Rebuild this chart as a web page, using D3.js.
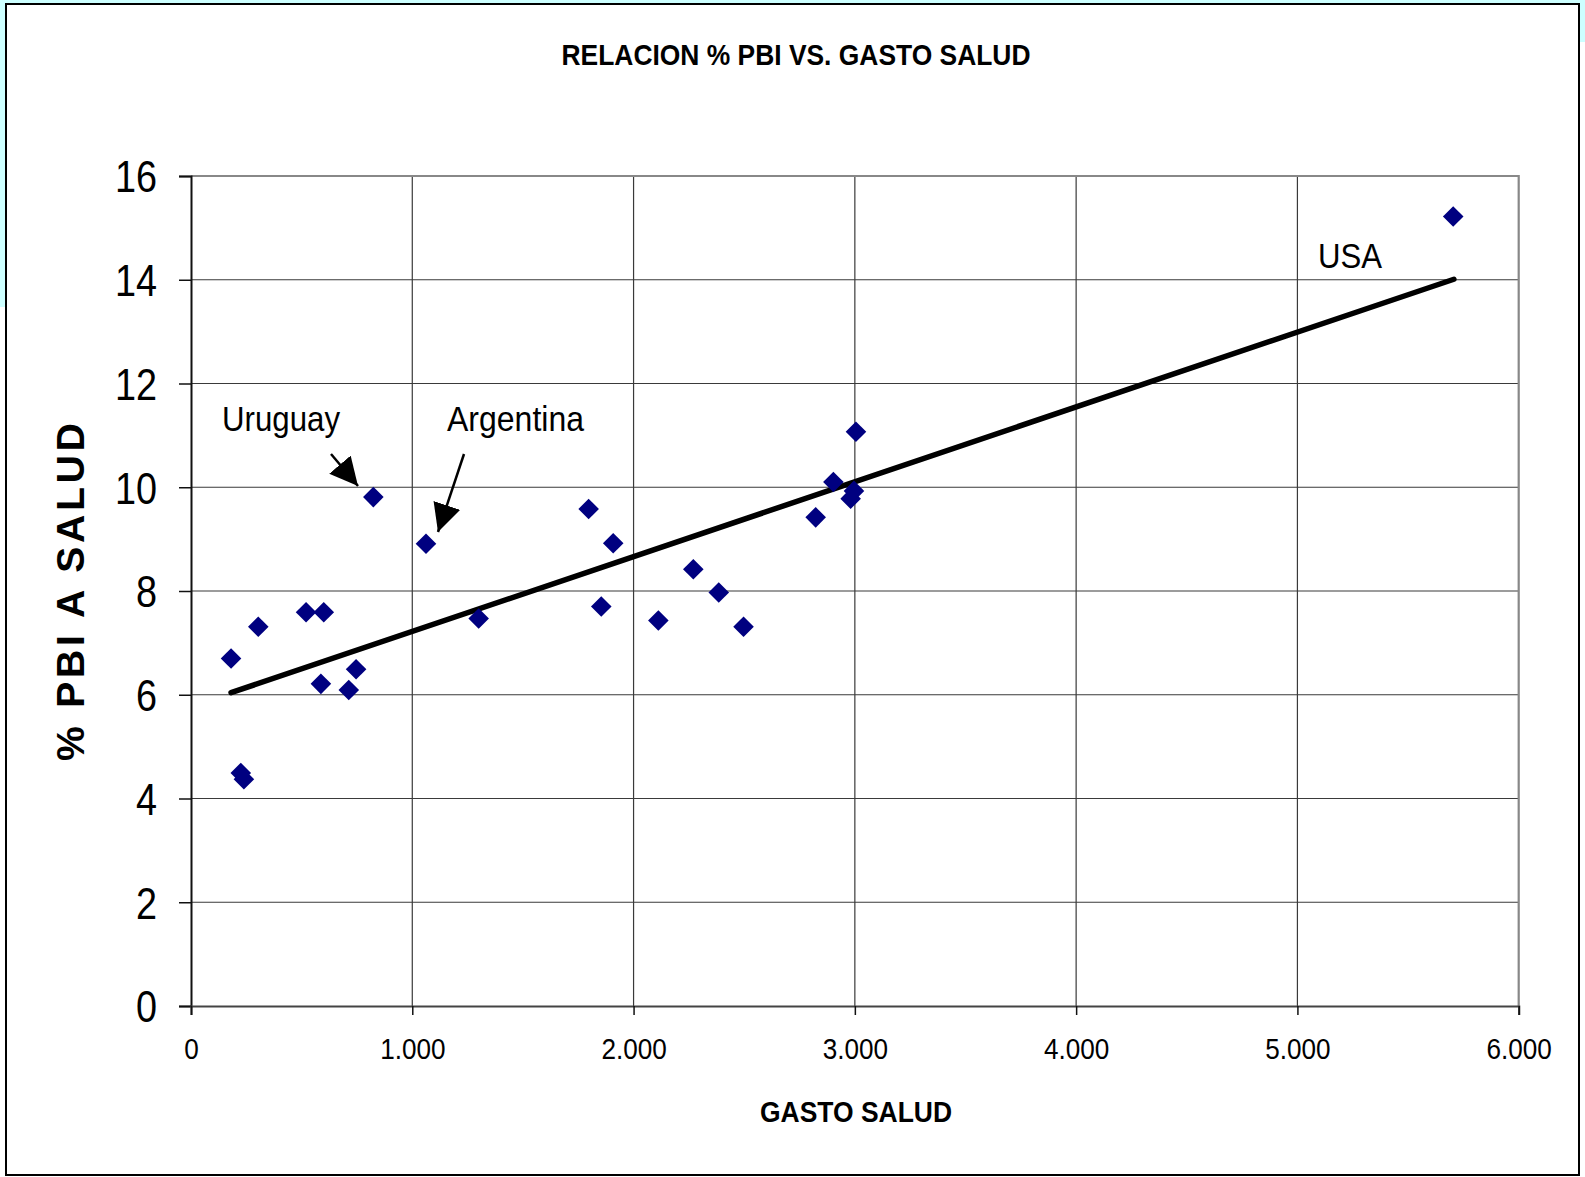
<!DOCTYPE html>
<html>
<head>
<meta charset="utf-8">
<script src="https://cdn.jsdelivr.net/npm/d3@7"></script>
<style>
  html, body { margin: 0; padding: 0; background: #ffffff; }
  svg { display: block; }
  text { font-family: "Liberation Sans", Arial, sans-serif; fill: #000; }
</style>
</head>
<body>
<svg id="chart" width="1585" height="1177"></svg>
<script>
// ---- data ----
const gastoSalud = [181, 304, 520, 600, 587, 713, 746, 824, 1062, 1300, 225, 239,
                    1797, 1854, 1908, 2112, 2270, 2385, 2497, 2823, 2903, 3005, 2996, 2981, 5704];
const pbiSalud   = [6.70, 7.31, 7.59, 7.59, 6.21, 6.09, 6.49, 9.81, 8.91, 7.47, 4.49, 4.37,
                    9.58, 7.70, 8.92, 7.43, 8.42, 7.97, 7.31, 9.42, 10.10, 11.07, 9.93, 9.78, 15.22];
const trendX = [181, 5707];
const trendY = [6.04, 14.01];
const xTicks = [0, 1000, 2000, 3000, 4000, 5000, 6000];
const yTicks = [0, 2, 4, 6, 8, 10, 12, 14, 16];
const labelNames = ["Uruguay", "Argentina", "USA"];
const titleText = "RELACION % PBI VS. GASTO SALUD";
const xTitle = "GASTO SALUD";
const yTitle = "% PBI A SALUD";

const svg = d3.select("#chart");

// background decorations
svg.append("rect").attr("x", 0).attr("y", 0).attr("width", 1585).attr("height", 307).attr("fill", "#ccffff");
svg.append("rect").attr("x", 6).attr("y", 42).attr("width", 1579).attr("height", 1135).attr("fill", "#ffffff");
svg.append("rect").attr("x", 6).attr("y", 4).attr("width", 1573).attr("height", 1171)
   .attr("fill", "#ffffff").attr("stroke", "#000").attr("stroke-width", 2);

const L = 191, R = 1518.7, T = 176, B = 1006;
const x = d3.scaleLinear().domain([0, 6000]).range([L, R]);
const y = d3.scaleLinear().domain([0, 16]).range([B, T]);

function squeeze(sel, f) {
  sel.each(function () {
    const w = this.getComputedTextLength();
    d3.select(this).attr("textLength", w * f).attr("lengthAdjust", "spacingAndGlyphs");
  });
}

// gridlines
svg.append("g").selectAll("line").data(yTicks.filter(d => d > 0 && d < 16)).join("line")
  .attr("x1", L).attr("x2", R).attr("y1", d => y(d)).attr("y2", d => y(d))
  .attr("stroke", "#3a3a3a").attr("stroke-width", 1.2);
svg.append("g").selectAll("line").data(xTicks.filter(d => d > 0 && d < 6000)).join("line")
  .attr("y1", T).attr("y2", B).attr("x1", d => x(d)).attr("x2", d => x(d))
  .attr("stroke", "#3a3a3a").attr("stroke-width", 1.2);

// plot border top/right (gray)
svg.append("path").attr("d", `M${L},${T}H${R}V${B}`).attr("fill", "none")
  .attr("stroke", "#888").attr("stroke-width", 2.2);

// axes
const yAxis = d3.axisLeft(y).tickValues(yTicks).tickSize(12).tickPadding(22).tickFormat(d3.format("d"));
const gy = svg.append("g").attr("transform", `translate(${L},0)`).call(yAxis);
gy.select(".domain").attr("stroke", "#111").attr("stroke-width", 2);
gy.selectAll(".tick line").attr("stroke", "#111").attr("stroke-width", 1.5);
gy.selectAll(".tick text").attr("font-size", 45).attr("dy", "0.35em")
  .attr("font-family", "'Liberation Sans', Arial, sans-serif").attr("fill", "#000");
squeeze(gy.selectAll(".tick text"), 0.84);

const fmtX = d => d === 0 ? "0" : d3.format(",.3f")(d / 1000);
const xAxis = d3.axisBottom(x).tickValues(xTicks).tickSize(9).tickPadding(23).tickFormat(fmtX);
const gx = svg.append("g").attr("transform", `translate(0,${B})`).call(xAxis);
gx.select(".domain").attr("stroke", "#444").attr("stroke-width", 2.2);
gx.selectAll(".tick line").attr("stroke", "#111").attr("stroke-width", 1.5);
gx.selectAll(".tick text").attr("font-size", 29)
  .attr("font-family", "'Liberation Sans', Arial, sans-serif").attr("fill", "#000");
squeeze(gx.selectAll(".tick text"), 0.9);

// trend line
svg.append("line")
  .attr("x1", x(trendX[0])).attr("y1", y(trendY[0]))
  .attr("x2", x(trendX[1])).attr("y2", y(trendY[1]))
  .attr("stroke", "#000").attr("stroke-width", 5.5).attr("stroke-linecap", "round");

// points
const pts = gastoSalud.map((g, i) => ({ g, p: pbiSalud[i] }));
svg.append("g").selectAll("path").data(pts).join("path")
  .attr("d", d3.symbol(d3.symbolDiamond2 || d3.symbolDiamond, 270)())
  .attr("transform", d => `translate(${x(d.g)},${y(d.p)})`)
  .attr("fill", "#000080");

// annotations
const ann = svg.append("g");
const t1 = ann.append("text").attr("x", 222).attr("y", 431).attr("font-size", 35).text(labelNames[0]);
const t2 = ann.append("text").attr("x", 447).attr("y", 431).attr("font-size", 35).text(labelNames[1]);
const t3 = ann.append("text").attr("x", 1318).attr("y", 268).attr("font-size", 35).text(labelNames[2]);
[[t1,118],[t2,137],[t3,64]].forEach(([t,w]) => t.attr("textLength", w).attr("lengthAdjust", "spacingAndGlyphs"));

// arrows
const defs = svg.append("defs");
defs.append("marker").attr("id", "ah").attr("viewBox", "0 0 10 10")
  .attr("refX", 10).attr("refY", 5).attr("markerUnits", "userSpaceOnUse")
  .attr("markerWidth", 28).attr("markerHeight", 28).attr("orient", "auto")
  .append("path").attr("d", "M0,0L10,5L0,10Z").attr("fill", "#000");
ann.append("line").attr("x1", 331).attr("y1", 454).attr("x2", 358).attr("y2", 486)
  .attr("stroke", "#000").attr("stroke-width", 2.5).attr("marker-end", "url(#ah)");
ann.append("line").attr("x1", 464).attr("y1", 454).attr("x2", 438).attr("y2", 532)
  .attr("stroke", "#000").attr("stroke-width", 2.5).attr("marker-end", "url(#ah)");

// titles
svg.append("text").attr("x", 796).attr("y", 65).attr("text-anchor", "middle")
  .attr("font-size", 30).attr("font-weight", "bold")
  .attr("textLength", 469).attr("lengthAdjust", "spacingAndGlyphs").text(titleText);
svg.append("text").attr("x", 856).attr("y", 1122).attr("text-anchor", "middle")
  .attr("font-size", 29).attr("font-weight", "bold")
  .attr("textLength", 192).attr("lengthAdjust", "spacingAndGlyphs").text(xTitle);
svg.append("text").attr("transform", "translate(84,592) rotate(-90)").attr("text-anchor", "middle")
  .attr("font-size", 39).attr("font-weight", "bold")
  .attr("textLength", 338).attr("lengthAdjust", "spacing").text(yTitle);
</script>
</body>
</html>
